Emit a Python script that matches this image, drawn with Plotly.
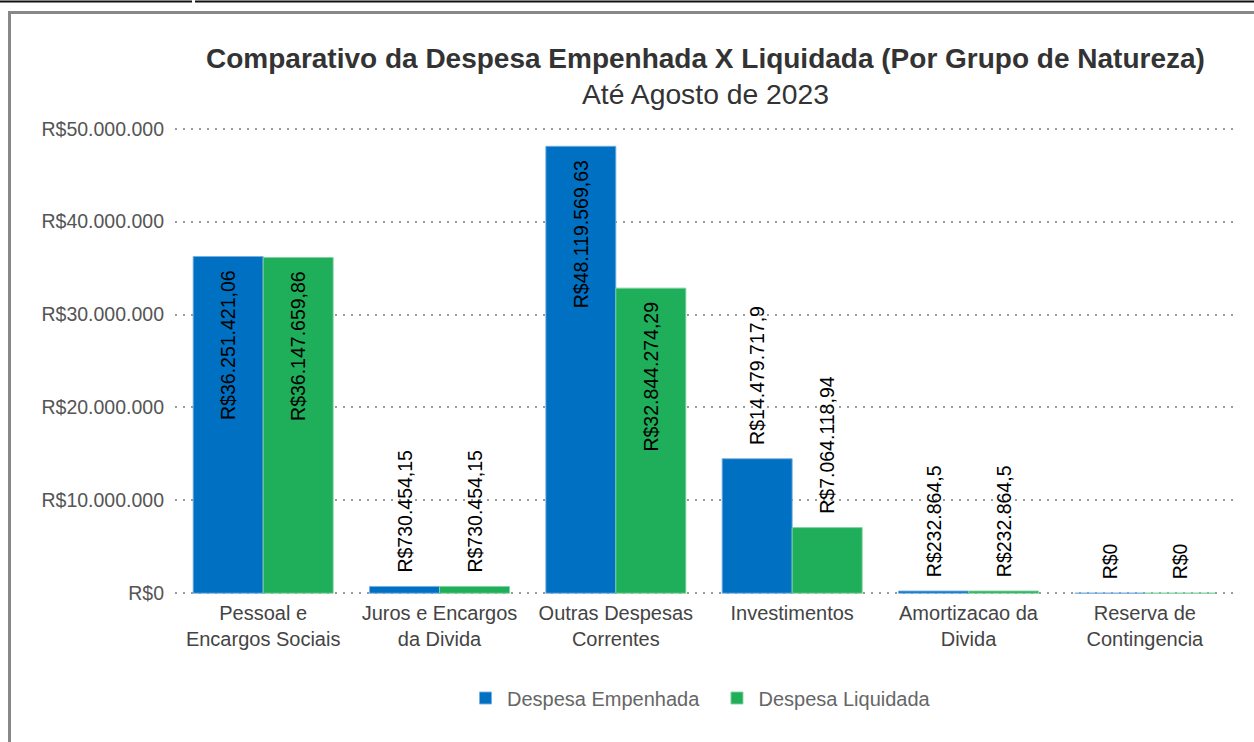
import plotly.graph_objects as go

categories = ["Pessoal e<br>Encargos Sociais", "Juros e Encargos<br>da Divida", "Outras Despesas<br>Correntes",
              "Investimentos", "Amortizacao da<br>Divida", "Reserva de<br>Contingencia"]
empenhada = [36251421.06, 730454.15, 48119569.63, 14479717.9, 232864.5, 0]
liquidada = [36147659.86, 730454.15, 32844274.29, 7064118.94, 232864.5, 0]
emp_labels = ["R$36.251.421,06", "R$730.454,15", "R$48.119.569,63", "R$14.479.717,9", "R$232.864,5", "R$0"]
liq_labels = ["R$36.147.659,86", "R$730.454,15", "R$32.844.274,29", "R$7.064.118,94", "R$232.864,5", "R$0"]
tick_vals = [0, 10000000, 20000000, 30000000, 40000000, 50000000]
tick_text = ["R$0", "R$10.000.000", "R$20.000.000", "R$30.000.000", "R$40.000.000", "R$50.000.000"]

W, H = 1254, 742
L, R, T, B = 175, 1233, 126, 596
PAD_M = 300000  # small range padding so edge gridlines show

def px(x):
    return (x - L) / (R - L)

def py(y):
    return (B - y) / (B - T)

def positions(vals):
    return ["inside" if v > 20000000 else "outside" for v in vals]

def padded(labels, vals):
    nb = "\u00a0"
    return [s + nb * 2 if v > 20000000 else nb * 2 + s for s, v in zip(labels, vals)]

FONT = "Liberation Sans, Arial"

fig = go.Figure()
fig.add_trace(go.Bar(
    x=categories, y=empenhada, name="Despesa Empenhada\u00a0\u00a0",
    marker=dict(color="#0070c2", line=dict(color="rgba(120,175,225,0.9)", width=1)),
    text=padded(emp_labels, empenhada), textposition=positions(empenhada), textangle=-90,
    insidetextanchor="end", constraintext="none", cliponaxis=False,
    textfont=dict(family=FONT, size=19.5, color="#000"),
))
fig.add_trace(go.Bar(
    x=categories, y=liquidada, name="Despesa Liquidada",
    marker=dict(color="#1fae5a", line=dict(color="rgba(130,210,160,0.9)", width=1)),
    text=padded(liq_labels, liquidada), textposition=positions(liquidada), textangle=-90,
    insidetextanchor="end", constraintext="none", cliponaxis=False,
    textfont=dict(family=FONT, size=19.5, color="#000"),
))

shapes = [
    dict(type="line", xref="paper", yref="paper", x0=px(0), x1=px(192), y0=py(1.5), y1=py(1.5),
         line=dict(color="#111", width=2)),
    dict(type="line", xref="paper", yref="paper", x0=px(195), x1=px(1254), y0=py(1.5), y1=py(1.5),
         line=dict(color="#111", width=2)),
    dict(type="line", xref="paper", yref="paper", x0=px(9.5), x1=px(9.5), y0=py(12), y1=py(742),
         line=dict(color="#888", width=3)),
    dict(type="line", xref="paper", yref="paper", x0=px(8), x1=px(1254), y0=py(12.5), y1=py(12.5),
         line=dict(color="#888", width=3)),
]

annotations = [
    dict(text="<b>Comparativo da Despesa Empenhada X Liquidada (Por Grupo de Natureza)</b>",
         xref="paper", yref="paper", x=px(705), y=py(58), showarrow=False,
         xanchor="center", yanchor="middle",
         font=dict(family=FONT, size=28, color="#333")),
    dict(text="Até Agosto de 2023",
         xref="paper", yref="paper", x=px(705), y=py(94), showarrow=False,
         xanchor="center", yanchor="middle",
         font=dict(family=FONT, size=28.3, color="#333")),
]

fig.update_layout(
    width=W, height=H,
    margin=dict(l=L, r=W - R, t=T, b=H - B, pad=0),
    paper_bgcolor="white", plot_bgcolor="white",
    barmode="group", bargap=0.206, bargroupgap=0,
    font=dict(family=FONT, color="#444"),
    showlegend=True,
    legend=dict(orientation="h", x=px(700), y=py(698), xanchor="center", yanchor="middle",
                font=dict(size=20, color="#666"), itemwidth=33),
    shapes=shapes, annotations=annotations,
)
fig.update_xaxes(showgrid=False, showline=False, ticks="", ticklabelstandoff=3,
                 tickfont=dict(size=20, color="#444"))
fig.update_yaxes(range=[-PAD_M, 50000000 + PAD_M], tickvals=tick_vals, ticktext=tick_text,
                 showgrid=True, gridcolor="#999", griddash="1.5px,6.5px", gridwidth=1.5,
                 zeroline=False, showline=False, ticks="", ticklabelstandoff=10,
                 tickfont=dict(size=19.5, color="#555"))

fig.write_html("out.html", config={"displayModeBar": False},
               post_script="document.body.style.margin='0px';document.body.style.overflow='hidden';")
